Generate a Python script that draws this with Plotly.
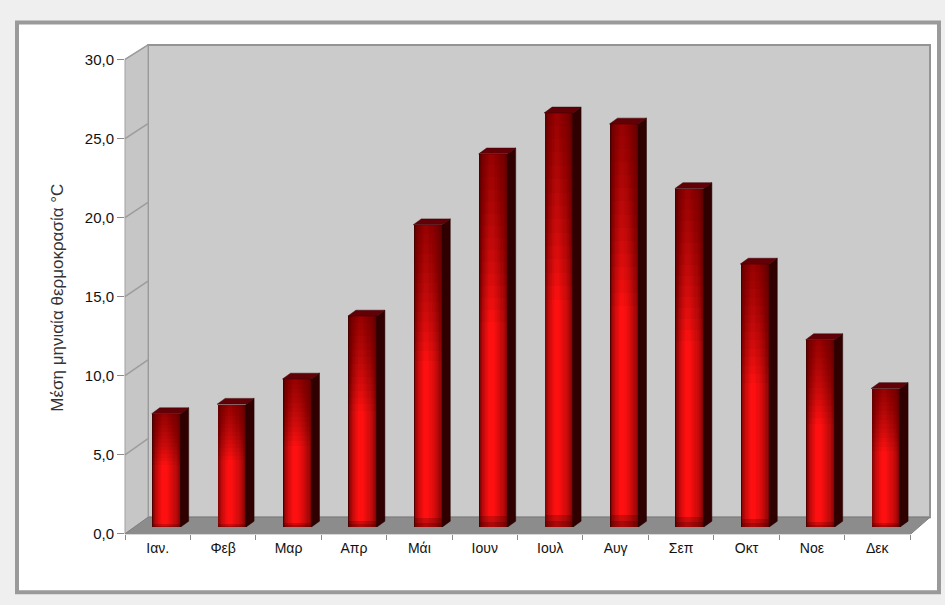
import numpy as np
import plotly.graph_objects as go

# Monthly mean temperature (°C)
months = ["Ιαν.", "Φεβ", "Μαρ", "Απρ", "Μάι", "Ιουν", "Ιουλ", "Αυγ", "Σεπ", "Οκτ", "Νοε", "Δεκ"]
temps = [7.2, 7.8, 9.4, 13.4, 19.2, 23.7, 26.3, 25.6, 21.5, 16.7, 11.9, 8.8]
y_ticks = [0, 5, 10, 15, 20, 25, 30]
y_ticktext = [f"{v:.1f}".replace(".", ",") for v in y_ticks]
y_title = "Μέση μηνιαία θερμοκρασία °C"

W, H = 945, 605


def fx(px):
    return px / W


def fy(py):
    return 1 - py / H


FONT = "Liberation Sans, Arial, sans-serif"
pos = np.arange(len(months))
vals = np.array(temps)

fig = go.Figure()

# ---- bars: front face shaded with overlaid layers, dark edges to bright centre ----
BW = 0.443
n_layers = 14
dark = np.array([80, 0, 0])
bright = np.array([255, 16, 16])
for k in range(n_layers):
    t = k / (n_layers - 1)
    w = BW * (1 - 0.85 * t)
    c = dark + (bright - dark) * (t ** 0.45)
    col = f"rgb({int(c[0])},{int(c[1])},{int(c[2])})"
    sh = -0.035 * t
    fig.add_trace(go.Bar(
        x=pos, y=vals, width=w, offset=-w / 2 + sh,
        marker=dict(color=col, line=dict(width=0)),
        xaxis="x2", yaxis="y2", hoverinfo="skip", showlegend=False,
    ))

# gradual darkening toward the top of each bar
for f in np.linspace(0.55, 0.97, 14):
    fig.add_trace(go.Bar(
        x=pos, y=vals * (1 - f), base=vals * f, width=BW, offset=-BW / 2,
        marker=dict(color="rgba(70,0,0,0.055)", line=dict(width=0)),
        xaxis="x2", yaxis="y2", hoverinfo="skip", showlegend=False,
    ))
# slight shading at the foot
for f in [0.03, 0.015]:
    fig.add_trace(go.Bar(
        x=pos, y=vals * f, width=BW, offset=-BW / 2,
        marker=dict(color="rgba(60,0,0,0.25)", line=dict(width=0)),
        xaxis="x2", yaxis="y2", hoverinfo="skip", showlegend=False,
    ))

# depth of the 3-D effect in axis units
DX = 8 / 65.4
DY = 6 / 16.2

side_x, side_y, top_x, top_y = [], [], [], []
for p, v in zip(pos, vals):
    r = p + BW / 2
    l = p - BW / 2
    side_x += [r, r + DX, r + DX, r, r, None]
    side_y += [0, DY, v + DY, v, 0, None]
    top_x += [l, r, r + DX, l + DX, l, None]
    top_y += [v, v, v + DY, v + DY, v, None]

fig.add_trace(go.Scatter(
    x=side_x, y=side_y, mode="lines", fill="toself",
    fillcolor="#300000", line=dict(color="#250000", width=0.5),
    xaxis="x2", yaxis="y2", hoverinfo="skip", showlegend=False,
))
fig.add_trace(go.Scatter(
    x=top_x, y=top_y, mode="lines", fill="toself",
    fillcolor="#620008", line=dict(color="#3a0000", width=0.5),
    xaxis="x2", yaxis="y2", hoverinfo="skip", showlegend=False,
))

# invisible trace carrying the category axis with month labels
fig.add_trace(go.Scatter(
    x=months, y=[0] * len(months), mode="markers",
    marker=dict(opacity=0), xaxis="x3", yaxis="y3",
    hoverinfo="skip", showlegend=False,
))

# ---- chart frame, walls and floor ----
shapes = [
    dict(type="rect", xref="paper", yref="paper",
         x0=fx(17), x1=fx(939), y0=fy(600), y1=fy(14),
         fillcolor="white", line=dict(color="#9a9a9a", width=4), layer="below"),
    dict(type="rect", xref="paper", yref="paper",
         x0=fx(148), x1=fx(930), y0=fy(523), y1=fy(37),
         fillcolor="#cbcbcb", line=dict(color="#949494", width=2), layer="below"),
    dict(type="path", xref="paper", yref="paper",
         path=(f"M{fx(125)},{fy(52)} L{fx(148)},{fy(37)} L{fx(148)},{fy(523)} "
               f"L{fx(125)},{fy(540)} Z"),
         fillcolor="#c6c6c6", line=dict(color="#a0a0a0", width=1), layer="below"),
    dict(type="path", xref="paper", yref="paper",
         path=(f"M{fx(125)},{fy(540)} L{fx(148)},{fy(523)} L{fx(930)},{fy(523)} "
               f"L{fx(911)},{fy(540)} Z"),
         fillcolor="#8c8c8c", line=dict(color="#808080", width=1), layer="below"),
]
# gridlines running across the side wall
for v in y_ticks[1:]:
    shapes.append(dict(
        type="line", xref="paper", yref="paper",
        x0=fx(125), y0=fy(540 - 16.27 * v), x1=fx(148), y1=fy(523 - 16.2 * v),
        line=dict(color="#9c9c9c", width=1.5), layer="below",
    ))

fig.update_layout(
    width=W, height=H, autosize=False,
    margin=dict(l=0, r=0, t=0, b=0),
    paper_bgcolor="#efefef", plot_bgcolor="rgba(0,0,0,0)",
    barmode="overlay", bargap=0,
    shapes=shapes,
    # back wall: gridlines only
    xaxis=dict(domain=[fx(148), fx(930)], range=[0, 1], showgrid=False,
               zeroline=False, showticklabels=False, ticks="", anchor="y"),
    yaxis=dict(domain=[fy(523), fy(37)], range=[0, 30], dtick=5, showgrid=True,
               gridcolor="#8e8e8e", gridwidth=2, zeroline=False,
               showticklabels=False, ticks="", anchor="x"),
    # bars
    xaxis2=dict(domain=[fx(133.5), fx(918.3)], range=[-0.5, 11.5], visible=False,
                anchor="y2"),
    yaxis2=dict(domain=[fy(533), fy(47)], range=[0, 30], visible=False, anchor="x2"),
    # front axes with labels
    xaxis3=dict(domain=[fx(125), fx(910)], type="category", categoryorder="array",
                categoryarray=months, range=[-0.5, 11.5], anchor="y3",
                showgrid=False, zeroline=False, showline=False,
                ticks="outside", tickson="boundaries", ticklen=5, tickcolor="#8a8a8a",
                ticklabelstandoff=4,
                tickfont=dict(family=FONT, size=14, color="#111111")),
    yaxis3=dict(domain=[fy(540), fy(52)], range=[0, 30], anchor="x3",
                tickvals=y_ticks, ticktext=y_ticktext,
                showgrid=False, zeroline=False, showline=False,
                ticks="outside", ticklen=7, tickcolor="#8a8a8a",
                tickfont=dict(family=FONT, size=15, color="#111111")),
    annotations=[dict(
        text=y_title, xref="paper", yref="paper", x=fx(58), y=fy(297),
        textangle=-90, showarrow=False, xanchor="center", yanchor="middle",
        font=dict(family=FONT, size=17, color="#333333"),
    )],
)

fig.write_html("out.html")
